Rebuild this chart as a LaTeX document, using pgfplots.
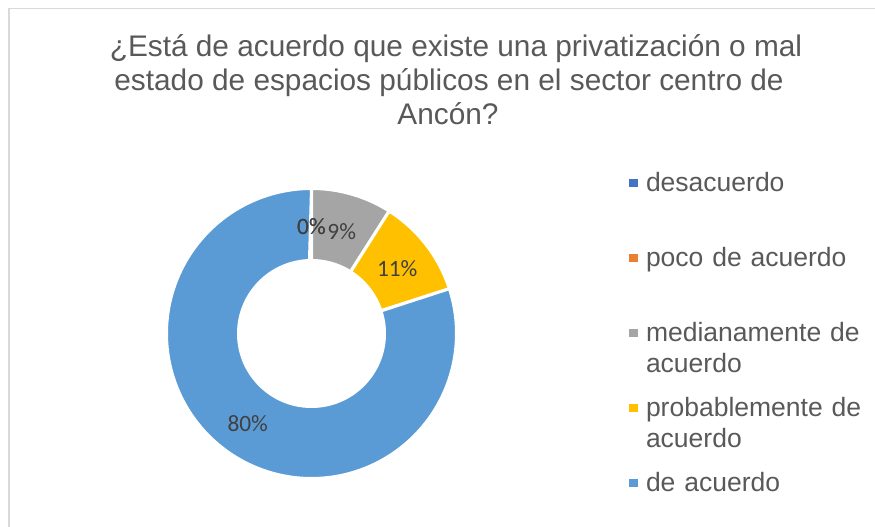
\documentclass[border=0pt]{standalone}
\usepackage{pgfplots}
\pgfplotsset{compat=1.18}
\usepackage{fontspec}
\setmainfont{Liberation Sans}
\newfontfamily\labelfont{Carlito}
\definecolor{cA}{HTML}{4472C4}
\definecolor{cB}{HTML}{ED7D31}
\definecolor{cC}{HTML}{A5A5A5}
\definecolor{cD}{HTML}{FFC000}
\definecolor{cE}{HTML}{5B9BD5}
\definecolor{txt}{HTML}{595959}
\definecolor{lbl}{HTML}{404040}
\definecolor{frm}{HTML}{D9D9D9}

% donut slice: colour, cumulative start (%), value (%)
\newcommand{\slice}[3]{%
  \addplot[fill=#1, draw=white, line width=3pt, domain=0:2, samples=361, variable=\t]
  ({311.5 + ((\t<=1)?145:73)*cos((\t<=1)?(90-3.6*#2-3.6*#3*\t):(90-3.6*(#2+#3)+3.6*#3*(\t-1)))},
   {193.5 + ((\t<=1)?145:73)*sin((\t<=1)?(90-3.6*#2-3.6*#3*\t):(90-3.6*(#2+#3)+3.6*#3*(\t-1)))}) -- cycle;
}
% data label: cumulative start (%), value (%)
\newcommand{\plabel}[2]{%
  \node[font=\labelfont\fontsize{23.4}{28}\selectfont, text=lbl, inner sep=0pt, anchor=center]
    at (axis cs:{311.5+108.5*cos(90-3.6*(#1+#2/2))},{191.5+108.5*sin(90-3.6*(#1+#2/2))}) {#2\%};
}

\begin{document}
\begin{tikzpicture}
\useasboundingbox (0,0) rectangle (875pt,527pt);
\begin{axis}[
  scale only axis, width=875pt, height=527pt,
  xmin=0, xmax=875, ymin=0, ymax=527,
  hide axis, clip=false,
  legend cell align=left,
  legend style={draw=none, fill=none, at={(axis cs:629.3,354.3)}, anchor=north west,
    inner sep=0pt, outer sep=0pt, row sep=50pt, column sep=8.3pt,
    nodes={inner sep=0pt, text=txt, font=\fontsize{26.5}{30.5}\selectfont,
      text width=225pt, align=left, text height=19pt, text depth=6pt, anchor=base west}},
  legend image code/.code={\fill[#1, draw=none] (0pt,4.3pt) rectangle (8.4pt,12.7pt);},
]
\draw[frm, line width=1.2pt] (axis cs:9,0) -- (axis cs:9,518.5) -- (axis cs:875,518.5);

\slice{cA}{0}{0}
\addlegendentry{desacuerdo}
\slice{cB}{0}{0}
\addlegendentry{poco de acuerdo}
\slice{cC}{0}{9}
\addlegendentry{medianamente de\\acuerdo}
\slice{cD}{9}{11}
\addlegendentry{probablemente de\\acuerdo}
\slice{cE}{20}{80}
\addlegendentry{de acuerdo}

\plabel{0}{0}
\plabel{0}{0}
\plabel{0}{9}
\plabel{9}{11}
\plabel{20}{80}

\node[text=txt, font=\fontsize{29.8}{34}\selectfont, anchor=base, inner sep=0pt] at (axis cs:456,470) {¿Está de acuerdo que existe una privatización o mal};
\node[text=txt, font=\fontsize{29.8}{34}\selectfont, anchor=base, inner sep=0pt] at (axis cs:449,436) {estado de espacios públicos en el sector centro de};
\node[text=txt, font=\fontsize{29.8}{34}\selectfont, anchor=base, inner sep=0pt] at (axis cs:448,402) {Ancón?};
\end{axis}
\end{tikzpicture}
\end{document}
